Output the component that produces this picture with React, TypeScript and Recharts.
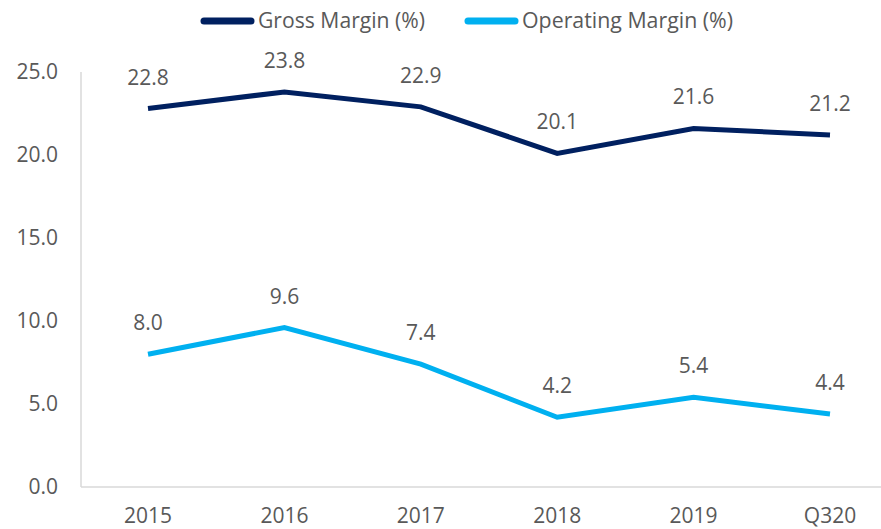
import React from "react";
import { LineChart, Line, XAxis, YAxis, LabelList } from "recharts";

const categories = ["2015", "2016", "2017", "2018", "2019", "Q320"];
const grossMargin = [22.8, 23.8, 22.9, 20.1, 21.6, 21.2];
const operatingMargin = [8.0, 9.6, 7.4, 4.2, 5.4, 4.4];
const yTicks = [0, 5, 10, 15, 20, 25];
const seriesNames = ["Gross Margin (%)", "Operating Margin (%)"];

const colors = {
  gross: "#002060",
  operating: "#00B0F0",
  text: "#595959",
  axis: "#D9D9D9",
};

const font = "'Open Sans', sans-serif";

const data = categories.map((c, i) => ({
  name: c,
  gross: grossMargin[i],
  operating: operatingMargin[i],
}));

// legend drawn as svg so the text widths can be pinned to the reference
function TopLegend() {
  const items = [
    { color: colors.gross, label: seriesNames[0], x: 200, textW: 167 },
    { color: colors.operating, label: seriesNames[1], x: 464, textW: 211 },
  ];
  return (
    <svg
      width={881}
      height={40}
      style={{ position: "absolute", left: 0, top: 0, pointerEvents: "none" }}
    >
      {items.map((it) => (
        <g key={it.label}>
          <line
            x1={it.x + 4}
            x2={it.x + 51}
            y1={21}
            y2={21}
            stroke={it.color}
            strokeWidth={7}
            strokeLinecap="round"
          />
          <text
            x={it.x + 58}
            y={28}
            style={{ fontFamily: font, fontSize: 21, fill: colors.text }}
            textLength={it.textW}
            lengthAdjust="spacingAndGlyphs"
          >
            {it.label}
          </text>
        </g>
      ))}
    </svg>
  );
}

export default function App() {
  return (
    <div
      style={{
        position: "absolute",
        left: 0,
        top: 0,
        width: 881,
        height: 529,
        overflow: "hidden",
        background: "#fff",
      }}
    >
      <LineChart
        width={898}
        height={529}
        data={data}
        margin={{ top: 72, right: 0, bottom: 0, left: 0 }}
        style={{ fontFamily: font }}
      >
        <XAxis
          dataKey="name"
          height={42}
          padding={{ left: 67, right: 68 }}
          tickLine={false}
          tickSize={0}
          tickMargin={21}
          axisLine={{ stroke: colors.axis, strokeWidth: 1.5 }}
          tick={{ fill: colors.text, fontSize: 21, fontFamily: font }}
          interval={0}
        />
        <YAxis
          width={81}
          domain={[0, 25]}
          ticks={yTicks}
          tickLine={false}
          tickSize={0}
          tickMargin={23}
          axisLine={{ stroke: colors.axis, strokeWidth: 1.5 }}
          tick={{ fill: colors.text, fontSize: 21, fontFamily: font }}
          tickFormatter={(v: number) => v.toFixed(1)}
        />
        <Line
          dataKey="gross"
          stroke={colors.gross}
          strokeWidth={5}
          dot={false}
          isAnimationActive={false}
        >
          <LabelList
            dataKey="gross"
            position="top"
            offset={24}
            fill={colors.text}
            fontSize={21}
            fontFamily={font}
            formatter={(v: number) => v.toFixed(1)}
          />
        </Line>
        <Line
          dataKey="operating"
          stroke={colors.operating}
          strokeWidth={5}
          dot={false}
          isAnimationActive={false}
        >
          <LabelList
            dataKey="operating"
            position="top"
            offset={24}
            fill={colors.text}
            fontSize={21}
            fontFamily={font}
            formatter={(v: number) => v.toFixed(1)}
          />
        </Line>
      </LineChart>
      <TopLegend />
    </div>
  );
}
